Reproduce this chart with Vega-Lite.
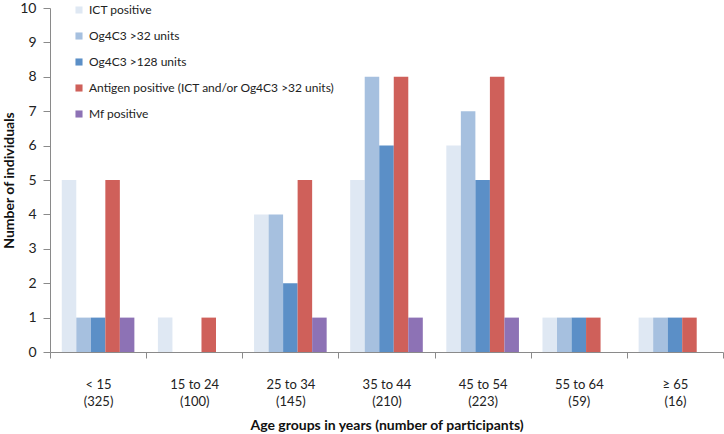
{
  "$schema": "https://vega.github.io/schema/vega-lite/v6.json",
  "width": 673,
  "height": 344,
  "autosize": "none",
  "padding": {"left": 50, "top": 8, "right": 1, "bottom": 82},
  "background": "white",
  "config": {
    "view": {"stroke": null},
    "font": "Lato",
    "axis": {"labelFont": "Lato", "titleFont": "Lato", "labelColor": "#222222", "titleColor": "#111111", "domainColor": "#8a8a8a", "tickColor": "#8a8a8a", "grid": false}
  },
  "data": {
    "values": [
      {"group": "< 15|(325)", "series": "ICT positive", "value": 5},
      {"group": "< 15|(325)", "series": "Og4C3 >32 units", "value": 1},
      {"group": "< 15|(325)", "series": "Og4C3 >128 units", "value": 1},
      {"group": "< 15|(325)", "series": "Antigen positive (ICT and/or Og4C3 >32 units)", "value": 5},
      {"group": "< 15|(325)", "series": "Mf positive", "value": 1},
      {"group": "15 to 24|(100)", "series": "ICT positive", "value": 1},
      {"group": "15 to 24|(100)", "series": "Og4C3 >32 units", "value": 0},
      {"group": "15 to 24|(100)", "series": "Og4C3 >128 units", "value": 0},
      {"group": "15 to 24|(100)", "series": "Antigen positive (ICT and/or Og4C3 >32 units)", "value": 1},
      {"group": "15 to 24|(100)", "series": "Mf positive", "value": 0},
      {"group": "25 to 34|(145)", "series": "ICT positive", "value": 4},
      {"group": "25 to 34|(145)", "series": "Og4C3 >32 units", "value": 4},
      {"group": "25 to 34|(145)", "series": "Og4C3 >128 units", "value": 2},
      {"group": "25 to 34|(145)", "series": "Antigen positive (ICT and/or Og4C3 >32 units)", "value": 5},
      {"group": "25 to 34|(145)", "series": "Mf positive", "value": 1},
      {"group": "35 to 44|(210)", "series": "ICT positive", "value": 5},
      {"group": "35 to 44|(210)", "series": "Og4C3 >32 units", "value": 8},
      {"group": "35 to 44|(210)", "series": "Og4C3 >128 units", "value": 6},
      {"group": "35 to 44|(210)", "series": "Antigen positive (ICT and/or Og4C3 >32 units)", "value": 8},
      {"group": "35 to 44|(210)", "series": "Mf positive", "value": 1},
      {"group": "45 to 54|(223)", "series": "ICT positive", "value": 6},
      {"group": "45 to 54|(223)", "series": "Og4C3 >32 units", "value": 7},
      {"group": "45 to 54|(223)", "series": "Og4C3 >128 units", "value": 5},
      {"group": "45 to 54|(223)", "series": "Antigen positive (ICT and/or Og4C3 >32 units)", "value": 8},
      {"group": "45 to 54|(223)", "series": "Mf positive", "value": 1},
      {"group": "55 to 64|(59)", "series": "ICT positive", "value": 1},
      {"group": "55 to 64|(59)", "series": "Og4C3 >32 units", "value": 1},
      {"group": "55 to 64|(59)", "series": "Og4C3 >128 units", "value": 1},
      {"group": "55 to 64|(59)", "series": "Antigen positive (ICT and/or Og4C3 >32 units)", "value": 1},
      {"group": "55 to 64|(59)", "series": "Mf positive", "value": 0},
      {"group": "≥ 65|(16)", "series": "ICT positive", "value": 1},
      {"group": "≥ 65|(16)", "series": "Og4C3 >32 units", "value": 1},
      {"group": "≥ 65|(16)", "series": "Og4C3 >128 units", "value": 1},
      {"group": "≥ 65|(16)", "series": "Antigen positive (ICT and/or Og4C3 >32 units)", "value": 1},
      {"group": "≥ 65|(16)", "series": "Mf positive", "value": 0}
    ]
  },
  "mark": {"type": "bar"},
  "encoding": {
    "x": {
      "field": "group",
      "type": "nominal",
      "sort": null,
      "scale": {"paddingInner": 0, "paddingOuter": 0},
      "axis": {
        "title": "Age groups in years (number of participants)",
        "titleFontSize": 14,
        "titleFontWeight": "bold",
        "titlePadding": 10,
        "labelExpr": "split(datum.label, '|')",
        "labelAngle": 0,
        "labelFontSize": 13,
        "labelLineHeight": 17,
        "labelPadding": 20,
        "tickBand": "extent",
        "tickSize": 6,
        "ticks": true,
        "domain": true
      }
    },
    "xOffset": {
      "field": "series",
      "type": "nominal",
      "sort": null,
      "scale": {"paddingInner": 0, "paddingOuter": 0.81}
    },
    "y": {
      "field": "value",
      "type": "quantitative",
      "scale": {"domain": [0, 10], "nice": false},
      "axis": {
        "title": "Number of individuals",
        "titleFontSize": 14,
        "titleFontWeight": "bold",
        "titleX": -34,
        "titleY": 172,
        "titleAnchor": "middle",
        "values": [0, 1, 2, 3, 4, 5, 6, 7, 8, 9, 10],
        "labelFontSize": 14,
        "labelPadding": 7,
        "tickSize": 7
      }
    },
    "color": {
      "field": "series",
      "type": "nominal",
      "sort": null,
      "scale": {
        "domain": ["ICT positive", "Og4C3 >32 units", "Og4C3 >128 units", "Antigen positive (ICT and/or Og4C3 >32 units)", "Mf positive"],
        "range": ["#dfe8f3", "#a6c0df", "#5b8fc7", "#cf605a", "#8d72b5"]
      },
      "legend": {
        "title": null,
        "orient": "none",
        "legendX": 23,
        "legendY": -4,
        "padding": 0,
        "symbolType": "square",
        "symbolSize": 50,
        "symbolStrokeWidth": 0,
        "labelFontSize": 12,
        "labelColor": "#222222",
        "labelOffset": 4,
        "rowPadding": 14,
        "labelLimit": 400
      }
    }
  }
}
